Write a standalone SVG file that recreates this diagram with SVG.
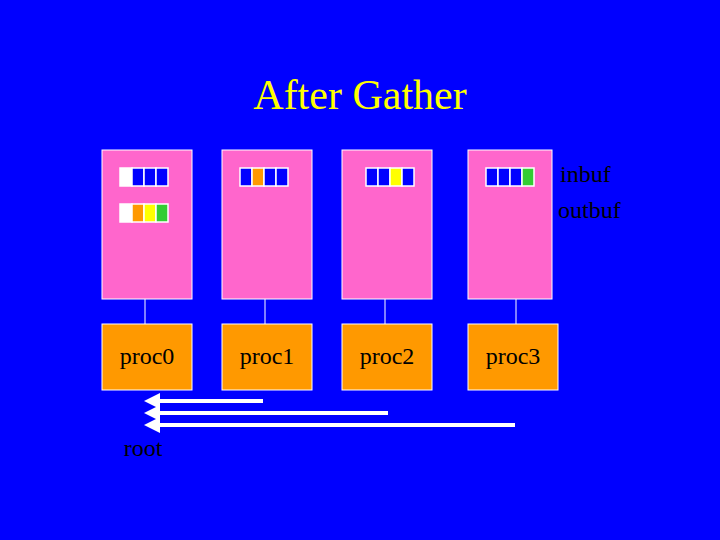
<svg xmlns="http://www.w3.org/2000/svg" width="720" height="540" viewBox="0 0 720 540">
<defs>
<style>
.t{font-family:"Liberation Serif",serif;font-size:24px;fill:#000}
.box{fill:#ff66cc;stroke:#ffffff;stroke-width:1}
.p{fill:#ff9900;stroke:#ffffff;stroke-width:1}
.c{stroke:#ffffff;stroke-width:1.5}
.b{fill:#0000ff}.w{fill:#ffffff}.o{fill:#ff9900}.y{fill:#ffff00}.g{fill:#33cc33}
</style>
<marker id="ah" markerWidth="4" markerHeight="4" refX="3" refY="2" orient="auto" markerUnits="strokeWidth"><path d="M0,0 L4,2 L0,4 Z" fill="#fff"/></marker>
</defs>
<rect width="720" height="540" fill="#0000ff"/>
<text x="360" y="109" text-anchor="middle" style="font-family:'Liberation Serif',serif;font-size:42px;fill:#ffff00">After Gather</text>
<g id="connectors" stroke="#fff" fill="none">
<line x1="145" y1="299" x2="145" y2="324" stroke-width="1"/>
<line x1="265" y1="299" x2="265" y2="324" stroke-width="1"/>
<line x1="385" y1="299" x2="385" y2="324" stroke-width="1"/>
<line x1="516" y1="299" x2="516" y2="324" stroke-width="1"/>
<line x1="263" y1="401" x2="148" y2="401" stroke-width="4" marker-end="url(#ah)"/>
<line x1="388" y1="413" x2="148" y2="413" stroke-width="4" marker-end="url(#ah)"/>
<line x1="515" y1="425" x2="148" y2="425" stroke-width="4" marker-end="url(#ah)"/>
</g>
<g id="mem0"><rect class="box" x="102" y="150" width="90" height="149"/>
<rect class="w c" x="120" y="168" width="12" height="18"/><rect class="b c" x="132" y="168" width="12" height="18"/><rect class="b c" x="144" y="168" width="12" height="18"/><rect class="b c" x="156" y="168" width="12" height="18"/>
<rect class="w c" x="120" y="204" width="12" height="18"/><rect class="o c" x="132" y="204" width="12" height="18"/><rect class="y c" x="144" y="204" width="12" height="18"/><rect class="g c" x="156" y="204" width="12" height="18"/></g>
<g id="mem1"><rect class="box" x="222" y="150" width="90" height="149"/>
<rect class="b c" x="240" y="168" width="12" height="18"/><rect class="o c" x="252" y="168" width="12" height="18"/><rect class="b c" x="264" y="168" width="12" height="18"/><rect class="b c" x="276" y="168" width="12" height="18"/></g>
<g id="mem2"><rect class="box" x="342" y="150" width="90" height="149"/>
<rect class="b c" x="366" y="168" width="12" height="18"/><rect class="b c" x="378" y="168" width="12" height="18"/><rect class="y c" x="390" y="168" width="12" height="18"/><rect class="b c" x="402" y="168" width="12" height="18"/></g>
<g id="mem3"><rect class="box" x="468" y="150" width="84" height="149"/>
<rect class="b c" x="486" y="168" width="12" height="18"/><rect class="b c" x="498" y="168" width="12" height="18"/><rect class="b c" x="510" y="168" width="12" height="18"/><rect class="g c" x="522" y="168" width="12" height="18"/></g>
<g id="labels"><text class="t" x="560" y="182">inbuf</text><text class="t" x="558" y="218">outbuf</text></g>
<g id="proc0"><rect class="p" x="102" y="324" width="90" height="66"/><text class="t" x="147" y="364" text-anchor="middle">proc0</text></g>
<g id="proc1"><rect class="p" x="222" y="324" width="90" height="66"/><text class="t" x="267" y="364" text-anchor="middle">proc1</text></g>
<g id="proc2"><rect class="p" x="342" y="324" width="90" height="66"/><text class="t" x="387" y="364" text-anchor="middle">proc2</text></g>
<g id="proc3"><rect class="p" x="468" y="324" width="90" height="66"/><text class="t" x="513" y="364" text-anchor="middle">proc3</text></g>
<g id="root"><text class="t" x="143" y="456" text-anchor="middle">root</text></g>
</svg>
